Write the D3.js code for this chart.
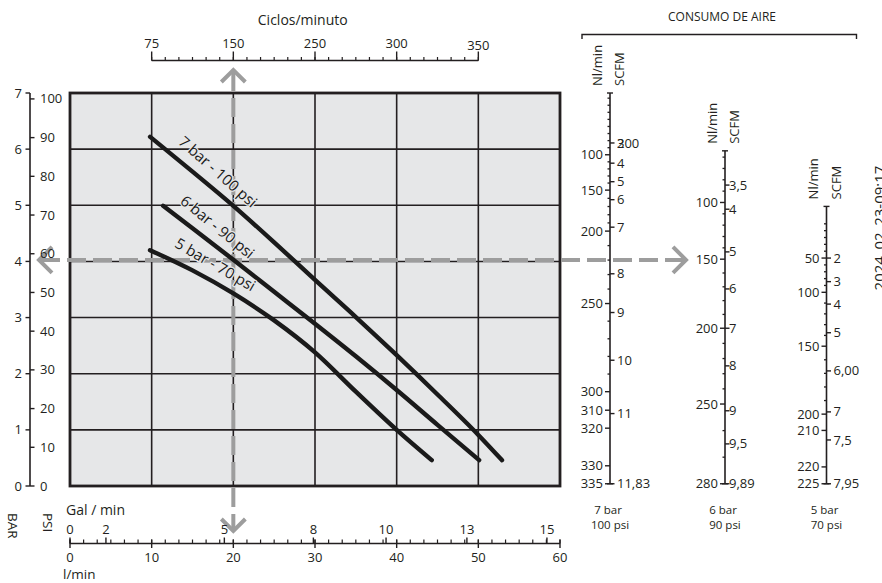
<!DOCTYPE html>
<html>
<head>
<meta charset="utf-8">
<script src="https://d3js.org/d3.v7.min.js"></script>
<style>
  body { margin: 0; background: #fff; }
  svg { display: block; font-family: "Open Sans", sans-serif; }
</style>
</head>
<body>
<svg width="882" height="583"></svg>
<script>
/*
    Data
*/
//Outlet pressure (bar) against flow (l/min) for each supply pressure
var flow7 = [9.8, 15, 20, 25, 30, 35, 40, 45, 50, 52.9]
var bar7  = [6.22, 5.60, 4.99, 4.34, 3.67, 3.01, 2.33, 1.63, 0.91, 0.46]
var flow6 = [11.4, 15, 20, 25, 30, 35, 40, 45, 50.1]
var bar6  = [4.99, 4.59, 4.03, 3.46, 2.89, 2.31, 1.71, 1.09, 0.46]
var flow5 = [9.8, 15, 20, 25, 30, 35, 40, 44.3]
var bar5  = [4.2, 3.84, 3.43, 2.95, 2.38, 1.68, 1.0, 0.46]
var curveNames = ["7 bar - 100 psi", "6 bar - 90 psi", "5 bar - 70 psi"]
var labelFlow = 16.8

//Axes of the main chart
var barTicks = [0, 1, 2, 3, 4, 5, 6, 7]
var psiTicks = [0, 10, 20, 30, 40, 50, 60, 70, 80, 90, 100]
var lminTicks = [0, 10, 20, 30, 40, 50, 60]
var galLabels = ["0", "2", "5", "8", "10", "13", "15"]
var galAt = [0, 4.4, 18.9, 29.8, 38.7, 48.6, 58.4]      // l/min under each gal label
var cycleLabels = ["75", "150", "250", "300", "350"]
var cycleAt = [10, 20, 30, 40, 50]                     // l/min under each cycles label

//Reading example (dashed arrows)
var exampleFlow = 20
var examplePressure = 4

//Air consumption scales (levels are in bar units of the main chart)
var consNames = ["7 bar", "6 bar", "5 bar"]
var consPsi = ["100 psi", "90 psi", "70 psi"]
var consTop = [7, 5.97, 4.98]

var nl7 = ["100", "150", "200", "250", "300", "310", "320", "330", "335"]
var nl7Lvl = [5.90, 5.27, 4.54, 3.25, 1.68, 1.35, 1.03, 0.36, 0.04]
var scfm7 = ["3", "4", "5", "6", "7", "8", "9", "10", "11", "11,83"]
var scfm7Lvl = [6.11, 5.75, 5.42, 5.10, 4.61, 3.78, 3.09, 2.24, 1.29, 0.04]

var nl6 = ["100", "150", "200", "250", "280"]
var nl6Lvl = [5.05, 4.04, 2.81, 1.46, 0.04]
var scfm6 = ["3,5", "4", "5", "6", "7", "8", "9", "9,5", "9,89"]
var scfm6Lvl = [5.36, 4.93, 4.17, 3.51, 2.81, 2.14, 1.34, 0.75, 0.04]

var nl5 = ["50", "100", "150", "200", "210", "220", "225"]
var nl5Lvl = [4.06, 3.45, 2.49, 1.28, 0.99, 0.34, 0.04]
var scfm5 = ["2", "3", "4", "5", "6,00", "7", "7,5", "7,95"]
var scfm5Lvl = [4.06, 3.64, 3.24, 2.73, 2.05, 1.32, 0.82, 0.04]

var strayLabel = "200"
var dateStamp = "2024_02_23-09:17"

/*
    Layout
*/
var ink = "#231f20"
var arrowGrey = "#9d9d9d"
var plot = { left: 70, right: 560, top: 93, bottom: 486 }
var consX = [610, 725, 826.5]

var svg = d3.select("svg")

//Scales
var xScale = d3.scaleLinear()
    .domain([0, 60])
    .range([plot.left, plot.right])

var yScale = d3.scaleLinear()
    .domain([0, 7])
    .range([plot.bottom, plot.top])

var psiToBar = 0.0689476
var num = function(s) { return parseFloat(s.replace(",", ".")) }

/*
    Plot area
*/
svg.append("rect")
    .attr("x", xScale(0))
    .attr("y", yScale(7))
    .attr("width", xScale(60) - xScale(0))
    .attr("height", yScale(0) - yScale(7))
    .attr("fill", "#e6e7e8")

svg.append("g").selectAll("line")
    .data(lminTicks.slice(1, -1))
    .enter().append("line")
    .attr("x1", function(d) { return xScale(d) })
    .attr("x2", function(d) { return xScale(d) })
    .attr("y1", yScale(0))
    .attr("y2", yScale(7))
    .attr("stroke", ink)
    .attr("stroke-width", 1.6)

svg.append("g").selectAll("line")
    .data(barTicks.slice(1, -1))
    .enter().append("line")
    .attr("x1", xScale(0))
    .attr("x2", xScale(60))
    .attr("y1", function(d) { return yScale(d) })
    .attr("y2", function(d) { return yScale(d) })
    .attr("stroke", ink)
    .attr("stroke-width", 1.6)

svg.append("rect")
    .attr("x", xScale(0))
    .attr("y", yScale(7))
    .attr("width", xScale(60) - xScale(0))
    .attr("height", yScale(0) - yScale(7))
    .attr("fill", "none")
    .attr("stroke", ink)
    .attr("stroke-width", 2.8)

/*
    Dashed reading arrows
*/
var ax = xScale(exampleFlow)
var ay = yScale(examplePressure) - 1.5
var arrows = svg.append("g")
    .attr("stroke", arrowGrey)
    .attr("stroke-width", 4)
    .attr("fill", "none")

arrows.append("line")
    .attr("x1", ax).attr("x2", ax)
    .attr("y1", 72).attr("y2", 529)
    .attr("stroke-dasharray", "19,7")
arrows.append("line")
    .attr("x1", 41).attr("x2", 684)
    .attr("y1", ay).attr("y2", ay)
    .attr("stroke-dasharray", "19,7")

function chevron(x, y, dx, dy) {
    arrows.append("path")
        .attr("d", "M" + (x + dx - dy) + "," + (y + dy - dx) + "L" + x + "," + y + "L" + (x + dx + dy) + "," + (y + dy + dx))
}
chevron(ax, 70, 0, 12)
chevron(ax, 531, 0, -12)
chevron(39, ay, 13, 0)
chevron(686, ay, -13, 0)

/*
    Curves
*/
var curveData = [
    { flow: flow7, bar: bar7, name: curveNames[0] },
    { flow: flow6, bar: bar6, name: curveNames[1] },
    { flow: flow5, bar: bar5, name: curveNames[2] }
]

var line = d3.line()
    .x(function(d) { return xScale(d[0]) })
    .y(function(d) { return yScale(d[1]) })
    .curve(d3.curveMonotoneX)

curveData.forEach(function(c) {
    svg.append("path")
        .attr("d", line(d3.zip(c.flow, c.bar)))
        .attr("fill", "none")
        .attr("stroke", "#1a1a1a")
        .attr("stroke-width", 4.4)
        .attr("stroke-linecap", "round")
})

//labels along the curves
curveData.forEach(function(c) {
    var interp = d3.scaleLinear().domain(c.flow).range(c.bar)
    var px = xScale(labelFlow), py = yScale(interp(labelFlow))
    var ang = Math.atan2(yScale(interp(labelFlow + 3)) - yScale(interp(labelFlow - 3)),
                         xScale(labelFlow + 3) - xScale(labelFlow - 3)) * 180 / Math.PI
    svg.append("text")
        .attr("transform", "translate(" + px + "," + py + ") rotate(" + (ang + 1.5) + ")")
        .attr("y", -11)
        .attr("text-anchor", "middle")
        .attr("font-size", 15)
        .attr("fill", "#1a1a1a")
        .attr("stroke", "#e6e7e8")
        .attr("stroke-width", 2.5)
        .attr("paint-order", "stroke")
        .text(c.name)
})

/*
    Left axis: BAR and PSI
*/
var leftX = 30
var leftAx = svg.append("g").attr("fill", ink).attr("font-size", 13)
leftAx.append("line")
    .attr("x1", leftX).attr("x2", leftX)
    .attr("y1", yScale(7)).attr("y2", yScale(0))
    .attr("stroke", ink).attr("stroke-width", 1.6)

barTicks.forEach(function(d) {
    leftAx.append("line")
        .attr("x1", leftX - 4.5).attr("x2", leftX)
        .attr("y1", yScale(d)).attr("y2", yScale(d))
        .attr("stroke", ink).attr("stroke-width", 1.4)
    leftAx.append("text")
        .attr("x", leftX - 8).attr("y", yScale(d))
        .attr("dy", "0.35em")
        .attr("text-anchor", "end")
        .text(d)
})

psiTicks.forEach(function(d) {
    var y = yScale(d * psiToBar)
    leftAx.append("line")
        .attr("x1", leftX).attr("x2", leftX + 4.5)
        .attr("y1", y).attr("y2", y)
        .attr("stroke", ink).attr("stroke-width", 1.4)
    leftAx.append("text")
        .attr("x", leftX + 10).attr("y", y)
        .attr("dy", "0.35em")
        .text(d)
})

leftAx.append("text")
    .attr("transform", "translate(8,513) rotate(90)")
    .attr("font-size", 13.5)
    .text("BAR")
leftAx.append("text")
    .attr("transform", "translate(43,513) rotate(90)")
    .attr("font-size", 13.5)
    .text("PSI")

/*
    Top axis: Ciclos/minuto
*/
var topY = 60.5
var topAx = svg.append("g").attr("fill", ink).attr("font-size", 13)
topAx.append("line")
    .attr("x1", xScale(cycleAt[0])).attr("x2", xScale(cycleAt[cycleAt.length - 1]))
    .attr("y1", topY).attr("y2", topY)
    .attr("stroke", ink).attr("stroke-width", 1.4)

d3.range(cycleAt[0], cycleAt[cycleAt.length - 1] + 0.01, 10 / 6).forEach(function(f) {
    topAx.append("line")
        .attr("x1", xScale(f)).attr("x2", xScale(f))
        .attr("y1", topY - 3.5).attr("y2", topY)
        .attr("stroke", ink).attr("stroke-width", 1.2)
})
cycleAt.forEach(function(f, i) {
    topAx.append("line")
        .attr("x1", xScale(f)).attr("x2", xScale(f))
        .attr("y1", topY - 9).attr("y2", topY)
        .attr("stroke", ink).attr("stroke-width", 1.4)
    topAx.append("text")
        .attr("x", xScale(f)).attr("y", i == cycleAt.length - 1 ? 45 : 43)
        .attr("dy", "0.35em")
        .attr("text-anchor", "middle")
        .text(cycleLabels[i])
})
topAx.append("text")
    .attr("x", xScale(28.5)).attr("y", 20)
    .attr("dy", "0.35em")
    .attr("text-anchor", "middle")
    .attr("font-size", 14)
    .text("Ciclos/minuto")

/*
    Bottom axis: l/min and Gal/min
*/
var botY = 543.5
var botAx = svg.append("g").attr("fill", ink).attr("font-size", 13)
botAx.append("line")
    .attr("x1", xScale(0)).attr("x2", xScale(60))
    .attr("y1", botY).attr("y2", botY)
    .attr("stroke", ink).attr("stroke-width", 1.4)

d3.range(0, 60.01, 10 / 6).forEach(function(f) {
    botAx.append("line")
        .attr("x1", xScale(f)).attr("x2", xScale(f))
        .attr("y1", botY - 4).attr("y2", botY)
        .attr("stroke", ink).attr("stroke-width", 1.2)
})
lminTicks.forEach(function(d) {
    botAx.append("line")
        .attr("x1", xScale(d)).attr("x2", xScale(d))
        .attr("y1", botY - 4).attr("y2", botY + 4.5)
        .attr("stroke", ink).attr("stroke-width", 1.4)
    botAx.append("text")
        .attr("x", xScale(d)).attr("y", 557)
        .attr("dy", "0.35em")
        .attr("text-anchor", "middle")
        .text(d)
})
galAt.forEach(function(f, i) {
    botAx.append("line")
        .attr("x1", xScale(f)).attr("x2", xScale(f))
        .attr("y1", botY - 6).attr("y2", botY)
        .attr("stroke", ink).attr("stroke-width", 1.4)
    botAx.append("text")
        .attr("x", xScale(f)).attr("y", 529)
        .attr("dy", "0.35em")
        .attr("text-anchor", "middle")
        .text(galLabels[i])
})
botAx.append("text")
    .attr("x", 66).attr("y", 510)
    .attr("dy", "0.35em")
    .attr("font-size", 14)
    .text("Gal / min")
botAx.append("text")
    .attr("x", 63).attr("y", 574)
    .attr("dy", "0.35em")
    .attr("font-size", 13.5)
    .text("l/min")

/*
    Air consumption scales
*/
var consData = [
    { nl: nl7, nlLvl: nl7Lvl, scfm: scfm7, scfmLvl: scfm7Lvl },
    { nl: nl6, nlLvl: nl6Lvl, scfm: scfm6, scfmLvl: scfm6Lvl },
    { nl: nl5, nlLvl: nl5Lvl, scfm: scfm5, scfmLvl: scfm5Lvl }
]

var cons = svg.append("g").attr("fill", ink).attr("font-size", 13)

cons.append("text")
    .attr("x", 722).attr("y", 17)
    .attr("dy", "0.35em")
    .attr("text-anchor", "middle")
    .attr("font-size", 12)
    .text("CONSUMO DE AIRE")
cons.append("path")
    .attr("d", "M582,39V34.5H856.5V39")
    .attr("fill", "none")
    .attr("stroke", ink)
    .attr("stroke-width", 1.4)

consData.forEach(function(c, i) {
    var x = consX[i]
    var nlVals = c.nl.map(num)
    var nlScale = d3.scaleLinear().domain(nlVals).range(c.nlLvl)
    var yTop = yScale(consTop[i])
    var yBot = yScale(c.nlLvl[c.nlLvl.length - 1])

    cons.append("line")
        .attr("x1", x).attr("x2", x)
        .attr("y1", yTop).attr("y2", yBot)
        .attr("stroke", ink).attr("stroke-width", 1.6)
    ;[yTop, yBot].forEach(function(y) {
        cons.append("line")
            .attr("x1", x - 3).attr("x2", x + 3)
            .attr("y1", y).attr("y2", y)
            .attr("stroke", ink).attr("stroke-width", 1.4)
    })

    //minor Nl/min marks every 10
    d3.range(0, nlVals[nlVals.length - 1], 10).forEach(function(d) {
        var lv = nlScale(d)
        if (nlVals.indexOf(d) >= 0 || lv > consTop[i] - 0.08) return
        cons.append("line")
            .attr("x1", x - 2.5).attr("x2", x)
            .attr("y1", yScale(lv)).attr("y2", yScale(lv))
            .attr("stroke", ink).attr("stroke-width", 1.3)
    })

    //Nl/min labels (left)
    c.nl.forEach(function(t, j) {
        var y = yScale(c.nlLvl[j])
        cons.append("line")
            .attr("x1", x - 5).attr("x2", x)
            .attr("y1", y).attr("y2", y)
            .attr("stroke", ink).attr("stroke-width", 1.4)
        cons.append("text")
            .attr("x", x - 7).attr("y", y)
            .attr("dy", "0.35em")
            .attr("text-anchor", "end")
            .text(t)
    })

    //SCFM labels (right)
    c.scfm.forEach(function(t, j) {
        var y = yScale(c.scfmLvl[j])
        cons.append("line")
            .attr("x1", x).attr("x2", x + 4.5)
            .attr("y1", y).attr("y2", y)
            .attr("stroke", ink).attr("stroke-width", 1.4)
        cons.append("text")
            .attr("x", x + (i == 1 ? 4 : 7)).attr("y", y)
            .attr("dy", "0.35em")
            .text(t)
        if (i == 0 && j == 0) {
            cons.append("text")
                .attr("x", x + 7).attr("y", y)
                .attr("dy", "0.35em")
                .text(strayLabel)
        }
    })

    //unit titles
    cons.append("text")
        .attr("transform", "translate(" + (x - 13) + "," + (yTop - 7) + ") rotate(-90)")
        .attr("dy", "0.35em")
        .text("Nl/min")
    cons.append("text")
        .attr("transform", "translate(" + (x + 9.5) + "," + (yTop - 7) + ") rotate(-90)")
        .attr("dy", "0.35em")
        .text("SCFM")

    //pressure under each scale
    cons.append("text")
        .attr("x", x - 2).attr("y", 510)
        .attr("dy", "0.35em")
        .attr("text-anchor", "middle")
        .attr("font-size", 11.5)
        .text(consNames[i])
    cons.append("text")
        .attr("x", x).attr("y", 525)
        .attr("dy", "0.35em")
        .attr("text-anchor", "middle")
        .attr("font-size", 11.5)
        .text(consPsi[i])
})

//date stamp on the right edge
svg.append("text")
    .attr("transform", "translate(885,228) rotate(-90)")
    .attr("text-anchor", "middle")
    .attr("font-size", 15)
    .attr("fill", ink)
    .text(dateStamp)
</script>
</body>
</html>
